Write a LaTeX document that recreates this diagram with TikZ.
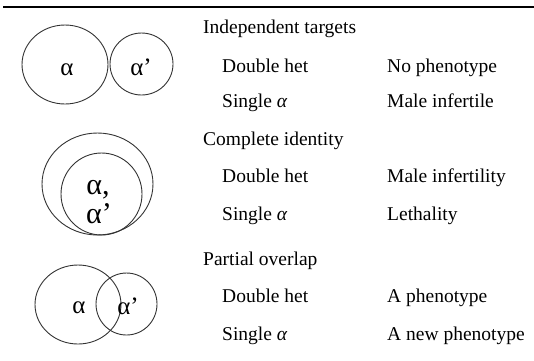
\documentclass[tikz,border=0pt]{standalone}
\usepackage{fontspec}
\setmainfont{Liberation Serif}
\usetikzlibrary{calc}
\tikzset{
  txt/.style={anchor=base west,inner sep=0pt,font=\fontsize{19.5}{22}\selectfont},
  lbl/.style={inner sep=0pt,font=\fontsize{25}{27}\selectfont},
  ring/.style={draw=black!80,line width=0.9pt}
}
\begin{document}
\begin{tikzpicture}[x=1pt,y=-1pt]
  \useasboundingbox (0,0) rectangle (534,360);
  \draw[line width=2pt] (3,7) -- (534,7);

  % independent targets
  \coordinate (1A) at (65,64.5);
  \coordinate (1B) at (141.5,64);
  \draw[ring] (1A) ellipse (43 and 39.5);
  \draw[ring] (1B) ellipse (31.5 and 31);
  \node[lbl] (1a) at (67,70) {α};
  \node[lbl] (1b) at (141,67) {α’};

  % complete identity
  \coordinate (2A) at (97.5,184);
  \coordinate (2B) at (101.5,194);
  \draw[ring] (2A) ellipse (55.5 and 51);
  \draw[ring] (2B) ellipse (40.5 and 41);
  \node[lbl,font=\fontsize{30}{32}\selectfont] (2a) at (98,190) {α,};
  \node[lbl,font=\fontsize{30}{32}\selectfont] (2b) at (99,214) {α’};

  % partial overlap
  \coordinate (3A) at (78,304.5);
  \coordinate (3B) at (126.5,304);
  \draw[ring] (3A) ellipse (43 and 39.5);
  \draw[ring] (3B) ellipse (30.5 and 31);
  \node[lbl] (3a) at (79,308) {α};
  \node[lbl] (3b) at (128,306) {α’};

  % texts
  \node[txt] (h1) at (203,33.5) {Independent targets};
  \node[txt] (d1) at (222,72.5) {Double het};
  \node[txt] (s1) at (222,107.5) {Single \textit{α}};
  \node[txt] (p1) at (387,72.5) {No phenotype};
  \node[txt] (q1) at (387,107.5) {Male infertile};

  \node[txt] (h2) at (203,145.5) {Complete identity};
  \node[txt] (d2) at (222,182.5) {Double het};
  \node[txt] (s2) at (222,220.5) {Single \textit{α}};
  \node[txt] (p2) at (387,182.5) {Male infertility};
  \node[txt] (q2) at (387,220.5) {Lethality};

  \node[txt] (h3) at (203,265.5) {Partial overlap};
  \node[txt] (d3) at (222,302.5) {Double het};
  \node[txt] (s3) at (222,340.5) {Single \textit{α}};
  \node[txt] (p3) at (387,302.5) {A phenotype};
  \node[txt] (q3) at (387,340.5) {A new phenotype};
\end{tikzpicture}
\end{document}
